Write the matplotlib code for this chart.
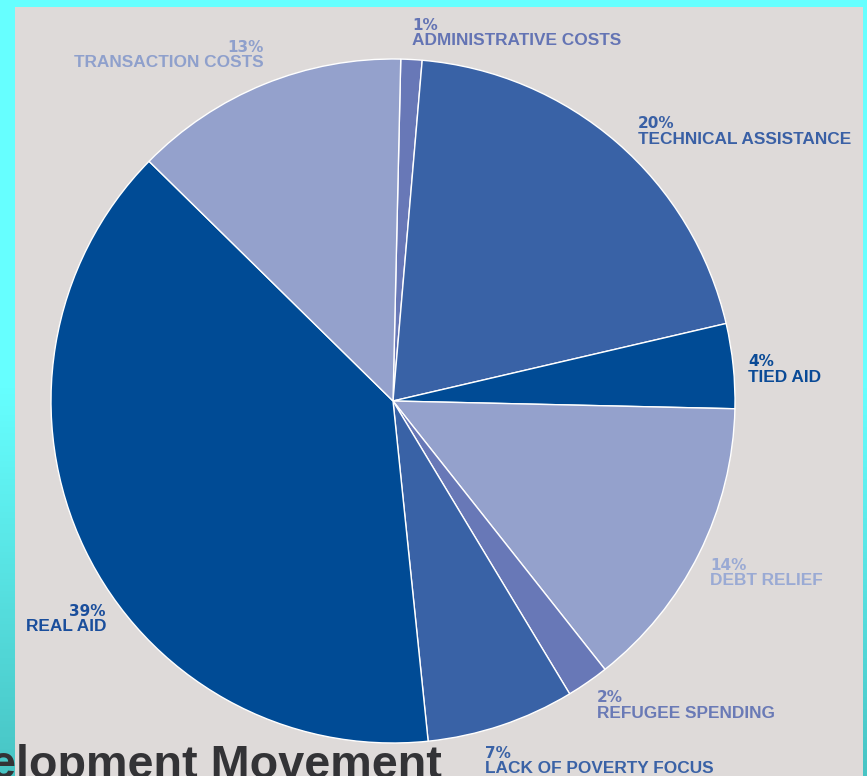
import numpy as np
import matplotlib
matplotlib.use("Agg")
import matplotlib.pyplot as plt
from matplotlib.colors import LinearSegmentedColormap

# data (clockwise from top)
categories = ["ADMINISTRATIVE COSTS", "TECHNICAL ASSISTANCE", "TIED AID", "DEBT RELIEF",
              "REFUGEE SPENDING", "LACK OF POVERTY FOCUS", "REAL AID", "TRANSACTION COSTS"]
shares = [1, 20, 4, 14, 2, 7, 39, 13]

slice_colors = ["#6878b7", "#3962a6", "#004b95", "#94a1cc",
                "#6878b7", "#3962a6", "#004b95", "#94a1cc"]
label_colors = ["#6474b4", "#3a60a5", "#0a4a96", "#9aaad4",
                "#6a7ab6", "#3a62a6", "#1a4e9c", "#8fa0cc"]

# label layout in pixels: x, baseline of name line, alignment
label_pos = [(412, 45, "left"), (638, 144, "left"), (748, 382, "left"), (710, 585, "left"),
             (597, 718, "left"), (485, 773, "left"), (106, 631, "right"), (264, 67, "right")]

W, H = 867, 776
fig = plt.figure(figsize=(W / 100, H / 100), dpi=100)

# background gradient + grey panel
bg = fig.add_axes([0, 0, 1, 1], zorder=0)
bg.axis("off")
cmap = LinearSegmentedColormap.from_list("cy", ["#66ffff", "#66ffff", "#48c4c4"])
grad = np.linspace(0, 1, 256).reshape(-1, 1)
bg.imshow(grad, cmap=cmap, extent=[0, W, H, 0], aspect="auto")
bg.add_patch(plt.Rectangle((15, 7), 848, 780, facecolor="#dedad9", edgecolor="none"))
bg.set_xlim(0, W)
bg.set_ylim(H, 0)

# pie
cx, cy, r = 393, 401, 342
ax = fig.add_axes([(cx - r) / W, (H - cy - r) / H, 2 * r / W, 2 * r / H], zorder=1)
ax.pie(shares, colors=slice_colors, startangle=88.7, counterclock=False,
       wedgeprops=dict(edgecolor="white", linewidth=1.0))
ax.set_xlim(-1, 1)
ax.set_ylim(-1, 1)
ax.axis("off")

# labels
tx = fig.add_axes([0, 0, 1, 1], zorder=2)
tx.set_xlim(0, W)
tx.set_ylim(H, 0)
tx.axis("off")
tx.patch.set_alpha(0)
for name, pct, col, (x, yb, ha) in zip(categories, shares, label_colors, label_pos):
    tx.text(x, yb - 15.5, f"{pct}%", ha=ha, va="baseline", color=col,
            fontsize=11, fontweight="bold", family="DejaVu Sans")
    tx.text(x, yb, name, ha=ha, va="baseline", color=col,
            fontsize=12.4, fontweight="bold", family="Liberation Sans")

# slide title, cut by the image edge as in the original
tx.text(-10, 778, "elopment Movement", ha="left", va="baseline", color="#333336",
        fontsize=33.7, fontweight="bold", family="Liberation Sans")

fig.savefig("out.png", dpi=100)
